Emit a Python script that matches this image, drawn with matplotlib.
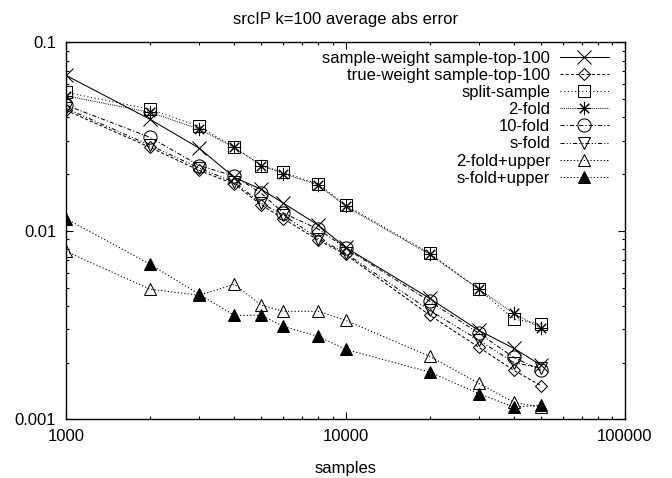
import matplotlib
matplotlib.use("Agg")
import matplotlib.pyplot as plt

plt.rcParams['font.family'] = ['Liberation Sans', 'DejaVu Sans']

samples = [1000, 2000, 3000, 4000, 5000, 6000, 8000, 10000, 20000, 30000, 40000, 50000]

sample_weight = [0.0668, 0.039, 0.0274, 0.0192, 0.0166, 0.014, 0.0107, 0.00817, 0.00438, 0.00296, 0.00238, 0.00194]
true_weight   = [0.0436, 0.0277, 0.0209, 0.0177, 0.0137, 0.0116, 0.0089, 0.0075, 0.00357, 0.00241, 0.00182, 0.00151]
split_sample  = [0.0543, 0.0441, 0.0358, 0.0277, 0.0222, 0.0204, 0.0177, 0.0137, 0.0076, 0.0049, 0.0034, 0.0032]
fold2         = [0.052, 0.0425, 0.0346, 0.0277, 0.0222, 0.0201, 0.0175, 0.0135, 0.0075, 0.0049, 0.00365, 0.00304]
fold10        = [0.0464, 0.0313, 0.0222, 0.0195, 0.0158, 0.0124, 0.0102, 0.0081, 0.00423, 0.00286, 0.00213, 0.00182]
sfold         = [0.0446, 0.0284, 0.0215, 0.0181, 0.014, 0.0121, 0.0091, 0.0076, 0.00378, 0.00263, 0.002, 0.00187]
fold2_upper   = [0.00778, 0.0049, 0.00455, 0.0052, 0.00403, 0.00374, 0.00374, 0.00335, 0.00216, 0.00155, 0.00123, 0.00116]
sfold_upper   = [0.0116, 0.00664, 0.0046, 0.00356, 0.00356, 0.00311, 0.00275, 0.00235, 0.00178, 0.00137, 0.00116, 0.00119]

series = [
    ("sample-weight sample-top-100", sample_weight, '-',              'x',         9.5, 'none'),
    ("true-weight sample-top-100",   true_weight,   (0, (3, 2)),      'D',         5.7, 'none'),
    ("split-sample",                 split_sample,  (0, (1, 2.5)),    's',         9.0, 'none'),
    ("2-fold",                       fold2,         (0, (0.8, 1.0)),  (8, 2, 0),   9.5, 'none'),
    ("10-fold",                      fold10,        (0, (4, 2, 1, 2)), 'o',        9.5, 'none'),
    ("s-fold",                       sfold,         (0, (4, 2, 1, 2, 1, 2)), 'v',  8.5, 'none'),
    ("2-fold+upper",                 fold2_upper,   (0, (1.2, 2)),    '^',         8.5, 'none'),
    ("s-fold+upper",                 sfold_upper,   (0, (1.2, 2)),    '^',         8.5, 'black'),
]

fig = plt.figure(figsize=(6.72, 4.78), dpi=100)
ax = fig.add_axes([66/672, 1 - 419.3/478, (625 - 66)/672, (419.3 - 42.3)/478])

for label, vals, ls, mk, ms, fc in series:
    ax.plot(samples, vals, color='black', linestyle=ls, linewidth=0.75,
            marker=mk, markersize=ms, markerfacecolor=fc,
            markeredgecolor='black', markeredgewidth=0.75, label=label)

ax.set_xscale('log')
ax.set_yscale('log')
ax.set_xlim(1000, 100000)
ax.set_ylim(0.001, 0.1)
ax.set_xticks([1000, 10000, 100000])
ax.set_xticklabels(['1000', '10000', '100000'])
ax.set_yticks([0.001, 0.01, 0.1])
ax.set_yticklabels(['0.001', '0.01', '0.1'])
ax.tick_params(which='both', direction='in', top=True, right=True, labelsize=12, width=0.8)
ax.tick_params(which='major', length=5, pad=7)
ax.tick_params(which='minor', length=2.5)
for s in ax.spines.values():
    s.set_linewidth(1.0)

ax.set_title("srcIP k=100 average abs error", fontsize=12, pad=13)
ax.set_xlabel("samples", fontsize=12, labelpad=12)

ax.legend(loc='upper right', bbox_to_anchor=(1 - 8/559, 1.0), frameon=False,
          markerfirst=False, fontsize=12, handlelength=2.9, handletextpad=0.6,
          labelspacing=0.13, numpoints=1, borderaxespad=0.2, borderpad=0.3)

fig.savefig("out.png", dpi=100, facecolor="white")
